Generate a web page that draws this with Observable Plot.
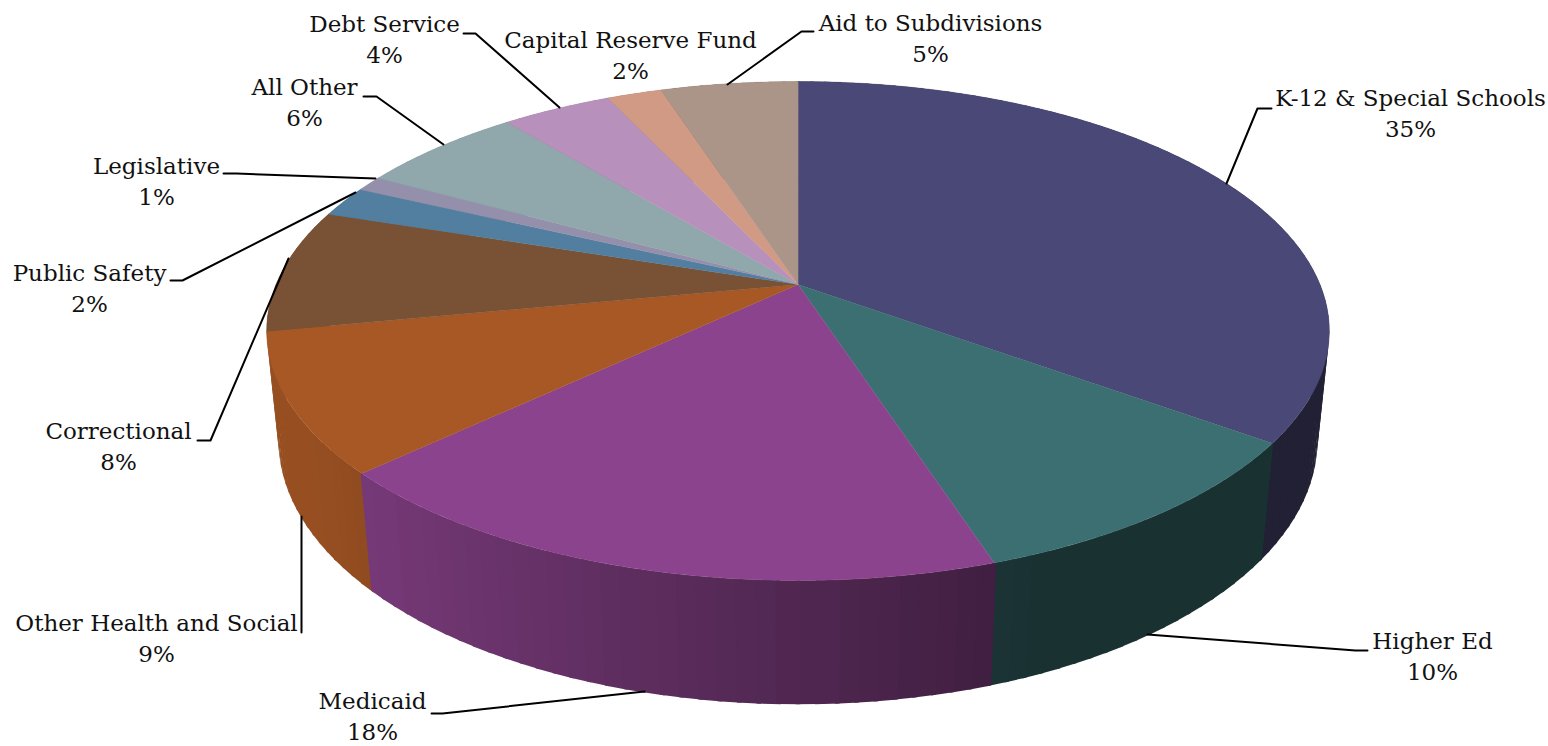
<!DOCTYPE html>
<html>
<head>
<meta charset="utf-8">
<style>html,body{margin:0;padding:0;background:#fff}svg{display:block}</style>
<script src="https://cdn.jsdelivr.net/npm/d3@7"></script>
<script src="https://cdn.jsdelivr.net/npm/@observablehq/plot@0.6"></script>
</head>
<body>
<div id="chart"></div>
<script>
// Budget shares, clockwise from twelve o'clock
const categories = ["K-12 & Special Schools", "Higher Ed", "Medicaid", "Other Health and Social", "Correctional", "Public Safety", "Legislative", "All Other", "Debt Service", "Capital Reserve Fund", "Aid to Subdivisions"];
const shares = [35, 10, 18, 9, 8, 2, 1, 6, 4, 2, 5];
const sliceColors = ["#4a4876", "#3b6f72", "#8a438c", "#a85825", "#795135", "#527f9f", "#9490ac", "#90a7ab", "#b890bc", "#d09a85", "#aa9588"];

// Where each caption sits: centre x, y of its first line
const labelX = [1410, 1432, 372, 156, 118, 89, 156, 304, 384, 630, 930];
const labelY = [96, 639, 699, 621, 429, 271, 164, 85, 22, 38, 21];
const lineGap = 31;

// Leader lines from caption to slice (the capital reserve caption has none)
const leaders = [
  {x: [1271, 1257, 1226], y: [108, 108, 183]},
  {x: [1367, 1355, 1147], y: [650, 650, 634]},
  {x: [431, 442, 644], y: [713, 713, 691]},
  {x: [301, 301], y: [632, 516]},
  {x: [197, 210, 288], y: [440, 440, 258]},
  {x: [170, 182, 355], y: [280, 280, 192]},
  {x: [223, 236, 375], y: [173, 173, 178]},
  {x: [363, 376, 443], y: [96, 96, 144]},
  {x: [463, 475, 559], y: [33, 33, 107]},
  {x: [813, 801, 727], y: [31, 31, 84]}
];

// Perspective camera for the tilted disc
const camera = {cx: 797.5, cy: 284, a: 522, b: 240.8, tilt: 0.1864, drop: 0.022, depth: 110};

function place(turn, z) {
  const t = turn * 2 * Math.PI;
  const X = Math.sin(t), Y = -Math.cos(t);
  const w = 1 - camera.tilt * Y + camera.drop * z;
  return [camera.cx + camera.a * X / w, camera.cy + (camera.b * Y + camera.depth * z) / w];
}

// Side walls darken from left to right, as if lit from the left
function wallShade(turn) {
  const X = Math.sin(turn * 2 * Math.PI);
  return 0.9 - 0.46 * Math.min(1, Math.max(0, (X + 0.85) / 1.22));
}

const total = d3.sum(shares);
const starts = d3.cumsum([0, ...shares]).map(v => v / total);

const polygon = (ring, color) => ({
  type: "Feature",
  properties: {color},
  geometry: {type: "Polygon", coordinates: [[...ring, ring[0]]]}
});

// Neighbouring wall bands overlap a little so no seams show between them
const seamOverlap = 0.0006;
const walls = [];
const tops = [];
shares.forEach((_, i) => {
  const t0 = starts[i], t1 = starts[i + 1];
  const bands = Math.max(1, Math.round((t1 - t0) / 0.005));
  for (let j = 0; j < bands; ++j) {
    const a0 = t0 + (t1 - t0) * j / bands;
    const a1 = t0 + (t1 - t0) * (j + 1) / bands;
    const base = d3.rgb(sliceColors[i]);
    const s = wallShade((a0 + a1) / 2);
    const color = d3.rgb(base.r * s, base.g * s, base.b * s).formatHex();
    const e0 = a0 - seamOverlap, e1 = a1 + seamOverlap;
    walls.push({order: -Math.cos(Math.PI * (a0 + a1)), feature: polygon([place(e0, 0), place(e1, 0), place(e1, 1), place(e0, 1)], color)});
  }
  const n = Math.max(4, Math.ceil((t1 - t0) / 0.002));
  const arc = d3.range(n + 1).map(k => place(t0 + (t1 - t0) * k / n, 0));
  tops.push(polygon([[camera.cx, camera.cy], ...arc], sliceColors[i]));
});
const wallFeatures = walls.sort((p, q) => p.order - q.order).map(d => d.feature);

const captions = categories.map((name, i) => ({
  text: `${name}\n${shares[i]}%`,
  x: labelX[i],
  y: labelY[i] + lineGap / 2
}));
const leaderPoints = leaders.flatMap((l, i) => l.x.map((x, j) => ({x, y: l.y[j], i})));

const chart = Plot.plot({
  width: 1548,
  height: 746,
  margin: 0,
  projection: d3.geoIdentity(),
  color: {type: "identity"},
  marks: [
    Plot.geo(wallFeatures, {fill: d => d.properties.color}),
    Plot.geo(tops, {fill: d => d.properties.color, stroke: d => d.properties.color, strokeWidth: 0.4}),
    Plot.line(leaderPoints, {x: "x", y: "y", z: "i", stroke: "#000", strokeWidth: 2}),
    Plot.text(captions, {
      x: "x", y: "y", text: "text",
      lineAnchor: "middle",
      lineHeight: lineGap / 23,
      fill: "#111",
      fontSize: 23,
      fontFamily: "DejaVu Serif"
    })
  ]
});
document.getElementById("chart").append(chart);
</script>
</body>
</html>
